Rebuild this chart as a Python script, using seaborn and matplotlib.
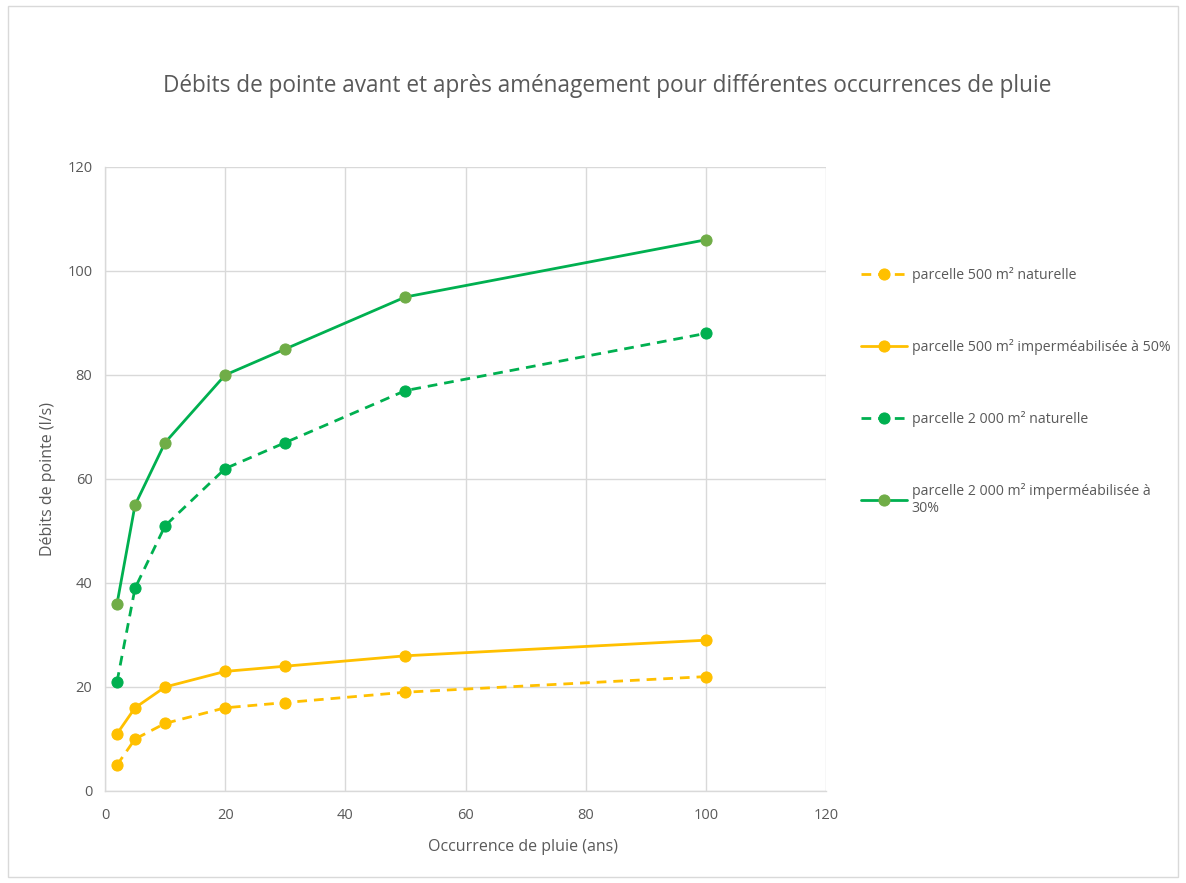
import matplotlib
matplotlib.use("Agg")
import matplotlib.pyplot as plt
from matplotlib.patches import Rectangle
import seaborn as sns
import pandas as pd

# Return periods (years)
occurrence = [2, 5, 10, 20, 30, 50, 100]

# Peak flows (l/s)
p500_nat = [5, 10, 13, 16, 17, 19, 22]
p500_imp = [11, 16, 20, 23, 24, 26, 29]
p2000_nat = [21, 39, 51, 62, 67, 77, 88]
p2000_imp = [36, 55, 67, 80, 85, 95, 106]

labels = [
    "parcelle 500 m² naturelle",
    "parcelle 500 m² imperméabilisée à 50%",
    "parcelle 2 000 m² naturelle",
    "parcelle 2 000 m² imperméabilisée à\n30%",
]

ticks = [0, 20, 40, 60, 80, 100, 120]

sns.set_style("white")
plt.rcParams["font.family"] = ["Open Sans", "DejaVu Sans"]

txt = "#595959"
grid_c = "#D9D9D9"
orange = "#FFC000"
green = "#00B050"
green_mk = "#70AD47"

fig = plt.figure(figsize=(11.86, 8.83), dpi=100)
ax = fig.add_axes([105 / 1186, 1 - 791 / 883, (826 - 105) / 1186, (791 - 167) / 883])

styles = [
    (p500_nat, orange, orange, (0, (3.5, 2.5))),
    (p500_imp, orange, orange, "-"),
    (p2000_nat, green, green, (0, (3.5, 2.5))),
    (p2000_imp, green, green_mk, "-"),
]

handles = []
for (vals, lc, mc, ls), lab in zip(styles, labels):
    df = pd.DataFrame({"x": occurrence, "y": vals})
    sns.lineplot(data=df, x="x", y="y", ax=ax, color=lc, linestyle=ls,
                 linewidth=2.0, marker="o", markersize=8,
                 markerfacecolor=mc, markeredgecolor=mc, label=lab,
                 legend=False)
    handles.append(ax.lines[-1])

ax.set_xlim(0, 120)
ax.set_ylim(0, 120)
ax.set_xticks(ticks)
ax.set_yticks(ticks)
ax.grid(True, color=grid_c, linewidth=1.0)
ax.set_axisbelow(True)
for s in ["top", "right"]:
    ax.spines[s].set_visible(False)
for s in ["left", "bottom"]:
    ax.spines[s].set_color(grid_c)
    ax.spines[s].set_linewidth(1.0)
ax.tick_params(axis="both", length=0, labelsize=10.5, colors=txt)
ax.tick_params(axis="x", pad=12)
ax.tick_params(axis="y", pad=9)

ax.set_xlabel("Occurrence de pluie (ans)", fontsize=11.5, color=txt)
ax.xaxis.set_label_coords((523 - 105) / 721, (791 - 847) / 624)
ax.xaxis.label.set_va("center")
ax.set_ylabel("Débits de pointe (l/s)", fontsize=11.5, color=txt)
ax.yaxis.set_label_coords((48 - 105) / 721, (791 - 479) / 624)
ax.yaxis.label.set_va("center")

fig.text(607 / 1186, 1 - 86 / 883, "Débits de pointe avant et après aménagement pour différentes occurrences de pluie",
         ha="center", va="center", fontsize=16.3, color=txt)

leg = fig.legend(handles=handles, labels=labels, loc="upper left",
                 bbox_to_anchor=(855 / 1186, 1 - 261 / 883), frameon=False,
                 fontsize=10.2, labelspacing=3.95, handlelength=3.3,
                 handletextpad=0.3, borderaxespad=0)
for t in leg.get_texts():
    t.set_color(txt)

# Chart area border
fig.patches.append(Rectangle((8 / 1186, 6 / 883), 1170 / 1186, 871 / 883,
                             transform=fig.transFigure, fill=False,
                             edgecolor="#D9D9D9", linewidth=1.0))

fig.savefig("out.png", dpi=100, facecolor="white")
